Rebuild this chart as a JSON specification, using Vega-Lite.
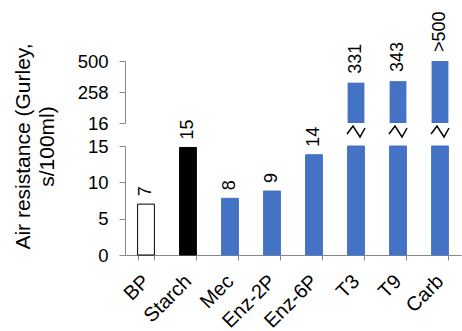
{
  "$schema": "https://vega.github.io/schema/vega-lite/v6.json",
  "padding": {"left": 12, "top": 11, "right": 2, "bottom": 0},
  "bounds": "flush",
  "spacing": 23,
  "background": "white",
  "data": {"values": [
    {"cat": "BP", "value": 7, "label": "7", "kind": "BP"},
    {"cat": "Starch", "value": 14.8, "label": "15", "kind": "Starch"},
    {"cat": "Mec", "value": 7.8, "label": "8", "kind": "Treated"},
    {"cat": "Enz-2P", "value": 8.8, "label": "9", "kind": "Treated"},
    {"cat": "Enz-6P", "value": 13.8, "label": "14", "kind": "Treated"},
    {"cat": "T3", "value": 331, "label": "331", "kind": "Treated"},
    {"cat": "T9", "value": 343, "label": "343", "kind": "Treated"},
    {"cat": "Carb", "value": 500, "label": ">500", "kind": "Treated"}
  ]},
  "config": {
    "view": {"stroke": null},
    "font": "Liberation Sans",
    "axis": {
      "domainColor": "#888888",
      "tickColor": "#888888",
      "labelColor": "#000000",
      "titleColor": "#000000",
      "grid": false,
      "labelFontSize": 18.5,
      "titleFontSize": 21,
      "titleFontWeight": "normal"
    }
  },
  "vconcat": [
    {
      "width": 336,
      "height": 62,
      "transform": [{"filter": "datum.value > 15"}],
      "encoding": {
        "x": {"field": "cat", "type": "nominal",
              "scale": {"domain": ["BP", "Starch", "Mec", "Enz-2P", "Enz-6P", "T3", "T9", "Carb"], "paddingInner": 0.6, "paddingOuter": 0.3},
              "axis": null}
      },
      "layer": [
        {
          "mark": {"type": "bar", "color": "#4472C4"},
          "encoding": {
            "y": {"field": "value", "type": "quantitative",
                  "scale": {"domain": [16, 500], "nice": false},
                  "axis": {"values": [16, 258, 500], "labelOverlap": false, "title": null, "tickSize": 6, "labelPadding": 11}},
            "y2": {"datum": 16}
          }
        },
        {
          "mark": {"type": "text", "angle": 270, "align": "left", "baseline": "middle", "dx": 9, "fontSize": 18, "color": "#000000"},
          "encoding": {
            "y": {"field": "value", "type": "quantitative", "axis": {"values": [16, 258, 500], "labelOverlap": false, "title": null, "tickSize": 6, "labelPadding": 11}},
            "text": {"field": "label"}
          }
        }
      ]
    },
    {
      "width": 336,
      "height": 109,
      "encoding": {
        "x": {"field": "cat", "type": "nominal",
              "scale": {"domain": ["BP", "Starch", "Mec", "Enz-2P", "Enz-6P", "T3", "T9", "Carb"], "paddingInner": 0.6, "paddingOuter": 0.3},
              "axis": {"title": null, "labelAngle": -45, "labelAlign": "right", "labelBaseline": "middle", "labelFontSize": 20, "tickBand": "extent", "tickSize": 5, "labelPadding": 18}}
      },
      "layer": [
        {
          "mark": {"type": "bar", "strokeWidth": 1},
          "encoding": {
            "y": {"field": "value", "type": "quantitative",
                  "scale": {"domain": [0, 15], "nice": false, "clamp": true},
                  "axis": {"tickCount": 3, "labelOverlap": false, "title": ["Air resistance (Gurley,", "s/100ml)"], "titleY": 0, "titlePadding": 30, "titleLineHeight": 24, "tickSize": 6, "labelPadding": 11}},
            "color": {"field": "kind", "type": "nominal", "legend": null,
                      "scale": {"domain": ["BP", "Starch", "Treated"], "range": ["#ffffff", "#000000", "#4472C4"]}},
            "stroke": {"field": "kind", "type": "nominal", "legend": null,
                      "scale": {"domain": ["BP", "Starch", "Treated"], "range": ["#000000", "#000000", "#4472C4"]}}
          }
        },
        {
          "transform": [{"filter": "datum.value <= 15"}],
          "mark": {"type": "text", "angle": 270, "align": "left", "baseline": "middle", "dx": 8, "fontSize": 18, "color": "#000000"},
          "encoding": {
            "y": {"field": "value", "type": "quantitative"},
            "text": {"field": "label"}
          }
        },
        {
          "transform": [{"filter": "datum.value > 15"}],
          "mark": {"type": "point", "shape": "M-0.9,0.3L-0.3,-0.5L0.4,0.6L0.9,-0.3", "size": 400, "filled": false, "stroke": "#000000", "strokeWidth": 1.5, "opacity": 1, "yOffset": -15},
          "encoding": {
            "y": {"field": "value", "type": "quantitative"}
          }
        }
      ]
    }
  ]
}
